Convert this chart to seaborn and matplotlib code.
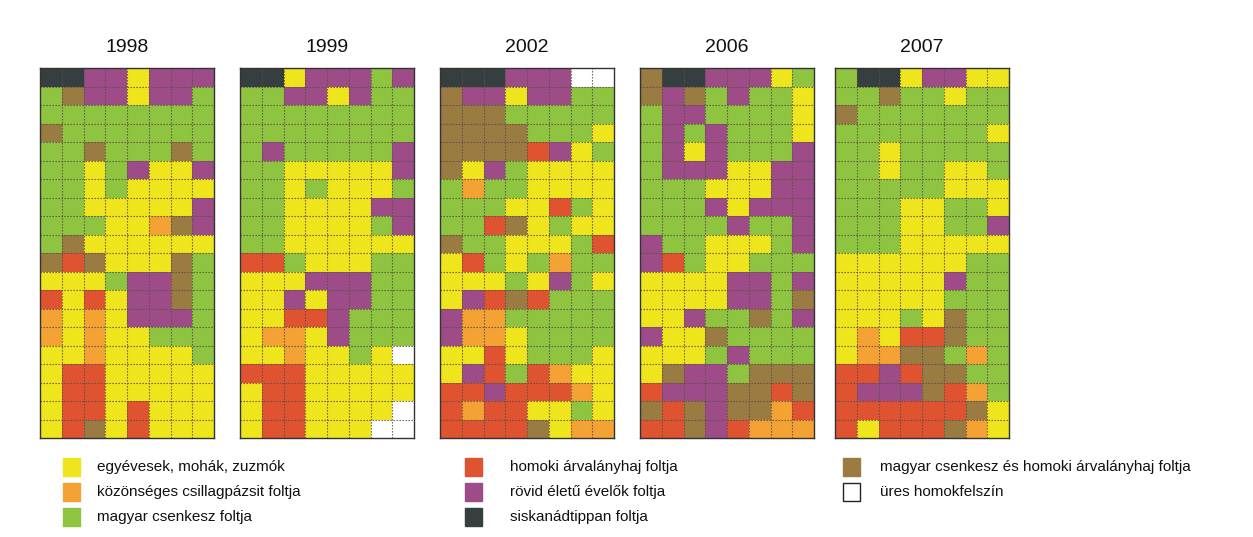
import numpy as np
import matplotlib
matplotlib.use("Agg")
import matplotlib.pyplot as plt
from matplotlib.colors import ListedColormap
from matplotlib.patches import Rectangle
import seaborn as sns

# category codes
codes = ["Y", "O", "G", "R", "P", "D", "B", "W"]
labels = {
    "Y": "egyévesek, mohák, zuzmók",
    "O": "közönséges csillagpázsit foltja",
    "G": "magyar csenkesz foltja",
    "R": "homoki árvalányhaj foltja",
    "P": "rövid életű évelők foltja",
    "D": "siskanádtippan foltja",
    "B": "magyar csenkesz és homoki árvalányhaj foltja",
    "W": "üres homokfelszín",
}
colors = {
    "Y": "#efe51c",
    "O": "#f3a233",
    "G": "#8fc441",
    "R": "#e05330",
    "P": "#9e4c87",
    "D": "#363f3f",
    "B": "#9a7b42",
    "W": "#ffffff",
}

years = ["1998", "1999", "2002", "2006", "2007"]

grid_1998 = [
    "DDPPYPPP", "GBPPYPPG", "GGGGGGGG", "BGGGGGGG", "GGBGGGBG",
    "GGYGPYYP", "GGYGYYYY", "GGYYYYYP", "GGGYYOBP", "GBYYYYYY",
    "BRBYYYBG", "YYYGPPBG", "RYRYPPBG", "OYOYPPPG", "OYOYYGGG",
    "YYOYYYYG", "YRRYYYYY", "YRRYYYYY", "YRRYRYYY", "YRBYRYYY",
]
grid_1999 = [
    "DDYPPPGP", "GGPPYPGG", "GGGGGGGG", "GGGGGGGG", "GPGGGGGP",
    "GGYYYYYP", "GGYGYYYG", "GGYYYYPP", "GGYYYYGP", "GGYYYYYY",
    "RRGYYYGG", "YYYPPPGG", "YYPYPPGG", "YYRRPGGG", "YOOYPGGG",
    "YYOYYGYW", "RRRYYYYY", "YRRYYYYY", "YRRYYYYW", "YRRYYYWW",
]
grid_2002 = [
    "DDDPPPWW", "BPPYPPGG", "BBBGGGGG", "BBBBGGGY", "BBBBRPYG",
    "BYPGYYYY", "GOGGYYYY", "GGGYYRGY", "GGRBYGYY", "BGGYYYGR",
    "YRGYGOGG", "YYYGYPGY", "YPRBRGGG", "POOGGGGG", "POOYGGGG",
    "YYRYGGGY", "YPRGROYY", "RRPRRROY", "RORRYYGY", "RRRRBYOO",
]
grid_2006 = [
    "BDDPPPYG", "BPBGPGGY", "GPPGGGGY", "GPGPGGGY", "GPYPGGGP",
    "GPPPYYPP", "GGGYYYPP", "GGGPYPPP", "GGGGPGGP", "PGGYYYGP",
    "PRGYYGGG", "YYYYPPGP", "YYYYPPGB", "YYPGGBGP", "PYYBGGGG",
    "YYYGPGGG", "YBPPGBBB", "RPPPBBRB", "BRBPBBOR", "RRBPROOO",
]
grid_2007 = [
    "GDDYPPYY", "GGBGGYGG", "BGGGGGGG", "GGGGGGGY", "GGYGGGGG",
    "GGYGGYYG", "GGGGGYYY", "GGGYYGGY", "GGGYYGGP", "GGGYYYYY",
    "YYYYYYGG", "YYYYYPGG", "YYYYYGGG", "YYYGYBGG", "YOYRRBGG",
    "YOOBBGOG", "RRPRBBGG", "RPPPBROG", "RRRRRRBY", "RYRRRBOY",
]
grids = [grid_1998, grid_1999, grid_2002, grid_2006, grid_2007]

legend_cols = [["Y", "O", "G"], ["R", "P", "D"], ["B", "W"]]

W, H = 1253, 537
fig = plt.figure(figsize=(W / 100, H / 100), dpi=100)
sns.set_style("white")
plt.rcParams["font.family"] = ["Liberation Sans", "DejaVu Sans"]

cmap = ListedColormap([colors[c] for c in codes])
idx = {c: i for i, c in enumerate(codes)}

lefts = [40, 240, 440, 640, 835]
gw, top, bot = 174, 68, 438
for left, year, grid in zip(lefts, years, grids):
    ax = fig.add_axes([left / W, 1 - bot / H, gw / W, (bot - top) / H])
    mat = np.array([[idx[c] for c in row] for row in grid])
    sns.heatmap(mat, ax=ax, cmap=cmap, vmin=-0.5, vmax=len(codes) - 0.5,
                cbar=False, square=False, linewidths=0, xticklabels=False,
                yticklabels=False)
    nr, nc = mat.shape
    for r in range(1, nr):
        ax.axhline(r, color="#5a5046", lw=0.8, ls=(0, (1.2, 1.5)))
    for c in range(1, nc):
        ax.axvline(c, color="#5a5046", lw=0.8, ls=(0, (1.2, 1.5)))
    for s in ax.spines.values():
        s.set_visible(True)
        s.set_color("#333333")
        s.set_linewidth(1.0)
    fig.text((left + gw / 2) / W, 1 - 47 / H, year, ha="center", va="center",
             fontsize=14, color="#111111")

# legend
col_x = [63, 465, 843]
text_x = [97, 510, 880]
row_y = [467, 492, 517]
for cx, tx, keys in zip(col_x, text_x, legend_cols):
    for ry, k in zip(row_y, keys):
        ec = "#222222" if k == "W" else colors[k]
        fig.patches.append(Rectangle((cx / W, 1 - (ry + 9) / H), 17 / W, 18 / H,
                                     transform=fig.transFigure, facecolor=colors[k],
                                     edgecolor=ec, lw=1.0))
        fig.text(tx / W, 1 - ry / H, labels[k], ha="left", va="center",
                 fontsize=11, color="#111111")

fig.savefig("out.png", dpi=100)
